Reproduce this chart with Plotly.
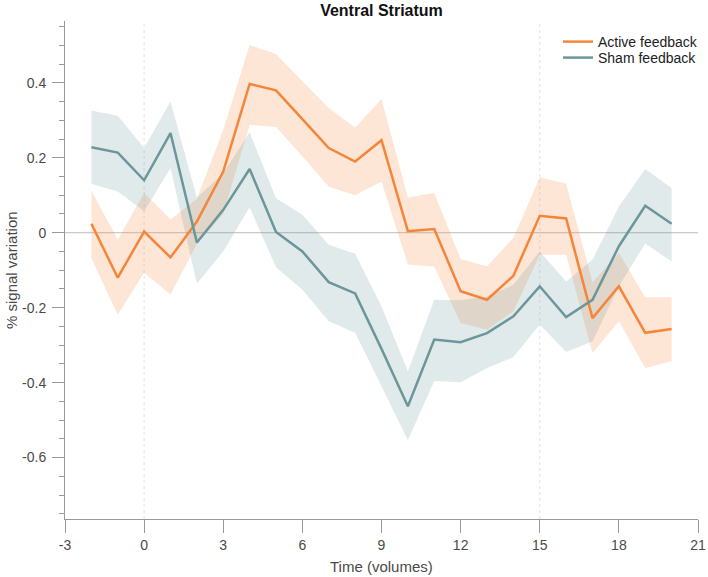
import plotly.graph_objects as go

time = list(range(-2, 21))

active_mean = [0.024, -0.12, 0.003, -0.066, 0.03, 0.163, 0.397, 0.38, 0.303, 0.226, 0.19, 0.247,
               0.004, 0.01, -0.156, -0.179, -0.115, 0.045, 0.038, -0.228, -0.143, -0.267, -0.257]
active_upper = [0.112, -0.019, 0.106, 0.035, 0.09, 0.275, 0.501, 0.477, 0.404, 0.333, 0.281, 0.357,
                0.094, 0.106, -0.07, -0.09, -0.014, 0.148, 0.131, -0.132, -0.054, -0.172, -0.172]
active_lower = [-0.068, -0.219, -0.107, -0.165, -0.03, 0.05, 0.288, 0.282, 0.204, 0.123, 0.1, 0.137,
                -0.085, -0.09, -0.241, -0.259, -0.21, -0.059, -0.059, -0.321, -0.236, -0.361, -0.343]

sham_mean = [0.228, 0.214, 0.14, 0.266, -0.026, 0.061, 0.17, 0.002, -0.05, -0.132, -0.162, -0.31,
             -0.463, -0.285, -0.292, -0.268, -0.223, -0.143, -0.225, -0.179, -0.036, 0.072, 0.024]
sham_upper = [0.326, 0.312, 0.226, 0.35, 0.093, 0.159, 0.268, 0.092, 0.048, -0.032, -0.056, -0.196,
              -0.37, -0.179, -0.18, -0.17, -0.139, -0.05, -0.13, -0.072, 0.07, 0.17, 0.119]
sham_lower = [0.131, 0.11, 0.057, 0.172, -0.136, -0.05, 0.068, -0.092, -0.152, -0.236, -0.267, -0.41,
              -0.554, -0.396, -0.399, -0.361, -0.332, -0.245, -0.318, -0.29, -0.143, -0.029, -0.077]

x_ticks = [-3, 0, 3, 6, 9, 12, 15, 18, 21]
x_tick_text = ["-3", "0", "3", "6", "9", "12", "15", "18", "21"]
y_ticks = [-0.6, -0.4, -0.2, 0, 0.2, 0.4]
y_tick_text = ["-0.6", "-0.4", "-0.2", "0", "0.2", "0.4"]
marker_times = [0, 15]

orange = "#F4853A"
teal = "#6B979B"
text_col = "#4A4A4A"
axis_col = "#999999"

fig = go.Figure()

# confidence bands
fig.add_trace(go.Scatter(x=time + time[::-1], y=active_upper + active_lower[::-1],
                         fill="toself", fillcolor="rgba(247,137,58,0.21)",
                         line=dict(width=0), mode="lines", showlegend=False, hoverinfo="skip"))
fig.add_trace(go.Scatter(x=time + time[::-1], y=sham_upper + sham_lower[::-1],
                         fill="toself", fillcolor="rgba(107,151,155,0.2)",
                         line=dict(width=0), mode="lines", showlegend=False, hoverinfo="skip"))

fig.add_trace(go.Scatter(x=time, y=active_mean, mode="lines", name="Active feedback",
                         line=dict(color=orange, width=2.5), legend="legend"))
fig.add_trace(go.Scatter(x=time, y=sham_mean, mode="lines", name="Sham feedback",
                         line=dict(color=teal, width=2.5), legend="legend2"))

# reference lines
fig.add_shape(type="line", xref="paper", yref="y", x0=0, x1=1, y0=0, y1=0,
              line=dict(color="#BDBDBD", width=1), layer="below")
for xv in marker_times:
    fig.add_shape(type="line", xref="x", yref="paper", x0=xv, x1=xv, y0=0, y1=1,
                  line=dict(color="#E2E2E2", width=1, dash="dot"), layer="below")

L, R, T, B = 65, 10, 21, 58
PW, PH = 708 - L - R, 577 - T - B

legend_common = dict(xanchor="left", yanchor="middle", bgcolor="rgba(0,0,0,0)",
                     font=dict(size=14, color="#222222"), itemwidth=30)

fig.update_layout(
    width=708, height=577,
    margin=dict(l=L, r=R, t=T, b=B, autoexpand=False),
    paper_bgcolor="white", plot_bgcolor="white",
    font=dict(family="Liberation Sans, Arial, sans-serif", color=text_col, size=14),
    title=dict(text="<b>Ventral Striatum</b>", x=381.5 / 708, xanchor="center",
               y=1 - 10 / 577, yanchor="middle", xref="container", yref="container",
               font=dict(size=16, color="#111111")),
    showlegend=True,
    legend=dict(x=(558 - L) / PW, y=(577 - B - 42) / PH, **legend_common),
    legend2=dict(x=(558 - L) / PW, y=(577 - B - 58) / PH, **legend_common),
    xaxis=dict(range=[-3, 21], tickvals=x_ticks, ticktext=x_tick_text, ticks="outside",
               ticklen=13, tickcolor=axis_col, automargin=False,
               showline=True, linecolor=axis_col, linewidth=1, showgrid=False, zeroline=False,
               tickfont=dict(size=14, color=text_col)),
    yaxis=dict(range=[-0.764, 0.565], tickvals=y_ticks, ticktext=y_tick_text, ticks="outside",
               ticklen=12, tickcolor=axis_col, automargin=False, ticklabelstandoff=3,
               minor=dict(dtick=0.05, tick0=0, ticks="outside", ticklen=5, tickcolor=axis_col),
               showline=True, linecolor=axis_col, linewidth=1, showgrid=False, zeroline=False,
               tickfont=dict(size=14, color=text_col)),
    annotations=[
        dict(text="Time (volumes)", xref="paper", yref="paper", x=(381.5 - L) / PW, y=0,
             xanchor="center", yanchor="middle", yshift=-47, showarrow=False,
             font=dict(size=15, color=text_col)),
        dict(text="% signal variation", xref="paper", yref="paper", x=0, y=0.5,
             xanchor="center", yanchor="middle", xshift=-(L - 11), textangle=-90,
             showarrow=False, font=dict(size=15, color=text_col)),
    ],
)

fig.write_html("out.html", config={"displayModeBar": False},
               post_script="document.body.style.margin='0';document.body.style.padding='0';")
